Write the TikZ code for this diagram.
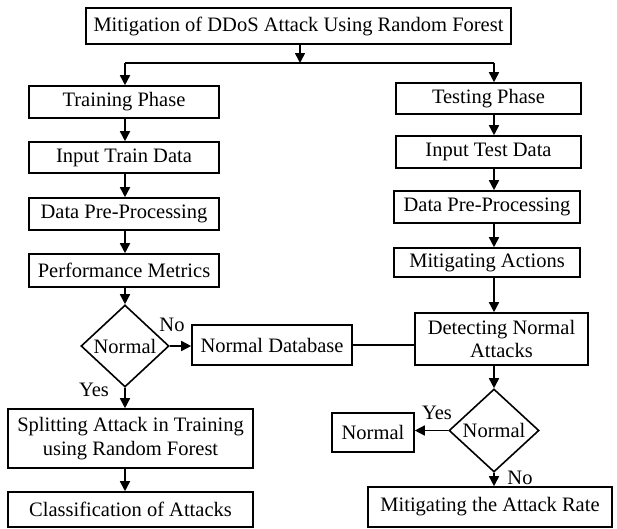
\documentclass[tikz,border=0pt]{standalone}
\usepackage{fontspec}
\setmainfont{Liberation Serif}
\usetikzlibrary{shapes.geometric,arrows.meta}
\begin{document}
\begin{tikzpicture}[x=1pt,y=-1pt,
  every node/.style={font=\fontsize{20.5}{23.5}\selectfont},
  box/.style={draw,line width=1.6pt,inner sep=0pt,align=center},
  dia/.style={draw,diamond,line width=1.6pt,inner sep=0pt},
  lbl/.style={inner sep=0pt},
  arr/.style={line width=1.6pt,-{Triangle[length=10pt,width=10pt]}},
  ln/.style={line width=1.6pt}]
\useasboundingbox (0,0) rectangle (617,528);
% nodes
\node[box,minimum width=425,minimum height=36] (title) at (298.5,26) {Mitigation of DDoS Attack Using Random Forest};
\node[box,minimum width=190,minimum height=32] (train) at (124,102) {Training Phase};
\node[box,minimum width=190,minimum height=31] (intrain) at (124,157.5) {Input Train Data};
\node[box,minimum width=190,minimum height=32] (preL) at (124,214) {Data Pre-Processing};
\node[box,minimum width=190,minimum height=33] (perf) at (124,270.5) {Performance Metrics};
\node[dia,minimum width=88,minimum height=82] (diaL) at (125,346) {Normal};
\node[box,minimum width=160,minimum height=40] (normdb) at (272,345) {Normal Database};
\node[box,minimum width=245,minimum height=59] (split) at (130.5,438.5) {Splitting Attack in Training\\using Random Forest};
\node[box,minimum width=245,minimum height=35] (class) at (130.5,509.5) {Classification of Attacks};
\node[box,minimum width=185,minimum height=31] (test) at (488.5,98.5) {Testing Phase};
\node[box,minimum width=185,minimum height=32] (intest) at (488.5,152) {Input Test Data};
\node[box,minimum width=186,minimum height=32] (preR) at (487,207) {Data Pre-Processing};
\node[box,minimum width=186,minimum height=29] (mitact) at (487,262.5) {Mitigating Actions};
\node[box,minimum width=173,minimum height=52] (detect) at (501.5,339) {Detecting Normal\\Attacks};
\node[dia,minimum width=90,minimum height=83] (diaR) at (494,430.5) {Normal};
\node[box,minimum width=82,minimum height=39] (small) at (373,432.5) {Normal};
\node[box,minimum width=244,minimum height=40] (rate) at (490,507) {Mitigating the Attack Rate};
% labels
\node[lbl] (noL) at (172,325) {No};
\node[lbl] (yesL) at (94,390) {Yes};
\node[lbl] (yesR) at (437,413) {Yes};
\node[lbl] (noR) at (520,478) {No};
% connectors
\coordinate (jn) at (300,63);
\coordinate (jl) at (125,63);
\coordinate (jr) at (494,63);
\draw[arr] (title.south -| jn) -- (jn);
\draw[ln] (jl) -- (jr);
\draw[arr] (jl) -- (jl |- train.north);
\draw[arr] (jr) -- (jr |- test.north);
\draw[arr] (jl |- train.south) -- (jl |- intrain.north);
\draw[arr] (jl |- intrain.south) -- (jl |- preL.north);
\draw[arr] (jl |- preL.south) -- (jl |- perf.north);
\draw[arr] (jl |- perf.south) -- (diaL.north);
\draw[arr] (diaL.east) -- (diaL.east -| normdb.west);
\draw[ln] (normdb.east) -- (normdb.east -| detect.west);
\draw[arr] (diaL.south) -- (diaL.south |- split.north);
\draw[arr] (diaL.south |- split.south) -- (diaL.south |- class.north);
\draw[arr] (jr |- test.south) -- (jr |- intest.north);
\draw[arr] (jr |- intest.south) -- (jr |- preR.north);
\draw[arr] (jr |- preR.south) -- (jr |- mitact.north);
\draw[arr] (jr |- mitact.south) -- (jr |- detect.north);
\draw[arr] (jr |- detect.south) -- (diaR.north);
\draw[arr] (diaR.west) -- (diaR.west -| small.east);
\draw[arr] (diaR.south) -- (diaR.south |- rate.north);
\end{tikzpicture}
\end{document}
